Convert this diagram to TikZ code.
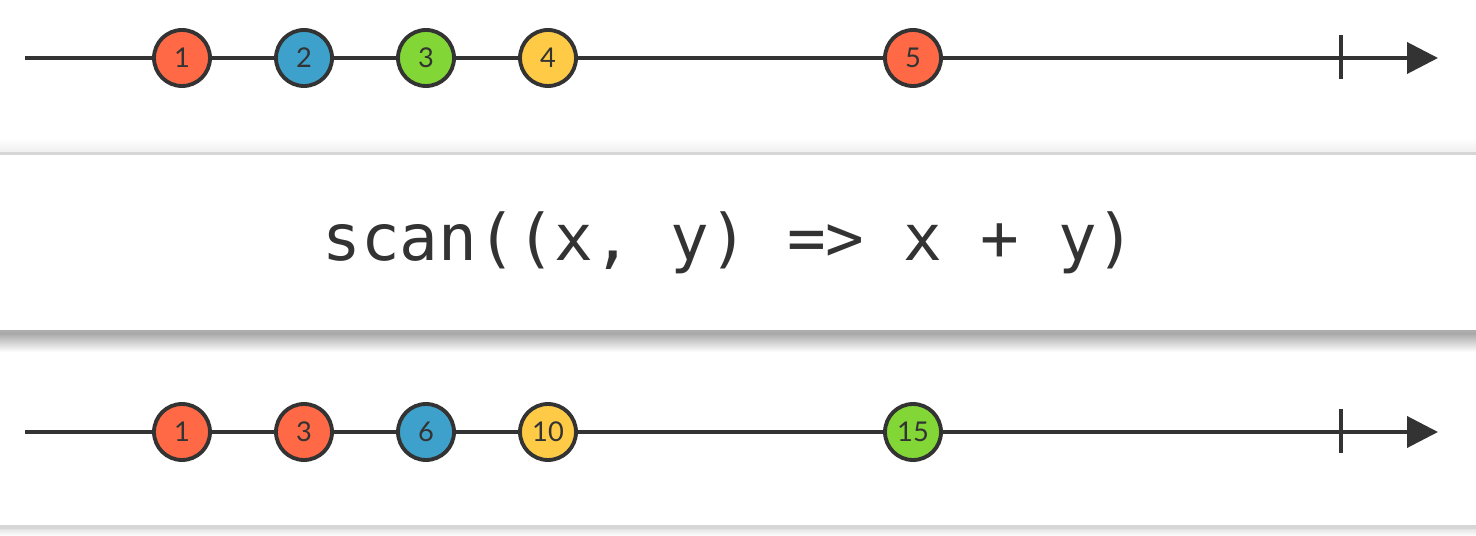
\documentclass[tikz,border=0pt]{standalone}
\usepackage{fontspec}
\setmainfont{Lato}
\newfontfamily\codefont{DejaVu Sans Mono}
\usepackage{tikz}
\usetikzlibrary{arrows.meta, positioning, calc, shadings}
\definecolor{mred}{RGB}{255, 105, 70}
\definecolor{mblue}{RGB}{62, 161, 203}
\definecolor{mgreen}{RGB}{130, 215, 54}
\definecolor{myellow}{RGB}{255, 203, 70}
\definecolor{ink}{RGB}{51, 51, 51}
\definecolor{edge}{RGB}{214, 214, 214}

\begin{document}
\begin{tikzpicture}[x=0.02cm, y=-0.02cm,
    timeline/.style={ink, line width=2.2pt, -{Triangle[length=0.62cm, width=0.62cm]}},
    marble/.style={circle, draw=ink, line width=2.2pt, minimum size=1.12cm, inner sep=0pt, text=ink, font=\fontsize{15.5}{15.5}\selectfont},
    tickmark/.style={ink, line width=2.2pt}]
        \useasboundingbox (0,0) rectangle (1476,536);
        \fill[white] (0,0) rectangle (1476,536);

        % Operator box with its shadows
        \shade[top color=white, bottom color=black!6] (0,138) rectangle (1476,152);
        \fill[edge] (0,152) rectangle (1476,155);
        \shade[top color=black!38, bottom color=white] (0,331) rectangle (1476,352);
        \fill[black!32] (0,330) rectangle (1476,333);
        \node[text=ink, font=\codefont\fontsize{36.6}{36.6}\selectfont] (op) at (729,243) {scan((x, y) => x + y)};

        % Bottom edge
        \fill[edge] (0,525) rectangle (1476,529);
        \shade[top color=black!10, bottom color=white] (0,529) rectangle (1476,536);

        % Input stream
        \coordinate (in start) at (25,58);
        \coordinate (in end) at (1438,58);
        \coordinate (in tick) at (1341,58);
        \draw[timeline] (in start) -- (in end);
        \draw[tickmark] ($(in tick)+(0,-23)$) -- ($(in tick)+(0,21)$);
        \foreach \x/\v/\c [count=\i] in {182/1/mred, 304/2/mblue, 426/3/mgreen, 548/4/myellow, 913/5/mred} {
            \node[marble, fill=\c] (in\i) at (\x,58) {\v};
        }

        % Output stream
        \coordinate (out start) at (25,432);
        \coordinate (out end) at (1438,432);
        \coordinate (out tick) at (1341,432);
        \draw[timeline] (out start) -- (out end);
        \draw[tickmark] ($(out tick)+(0,-23)$) -- ($(out tick)+(0,21)$);
        \foreach \x/\v/\c [count=\i] in {182/1/mred, 304/3/mred, 426/6/mblue, 548/10/myellow, 913/15/mgreen} {
            \node[marble, fill=\c] (out\i) at (\x,432) {\v};
        }
    \end{tikzpicture}
\end{document}
